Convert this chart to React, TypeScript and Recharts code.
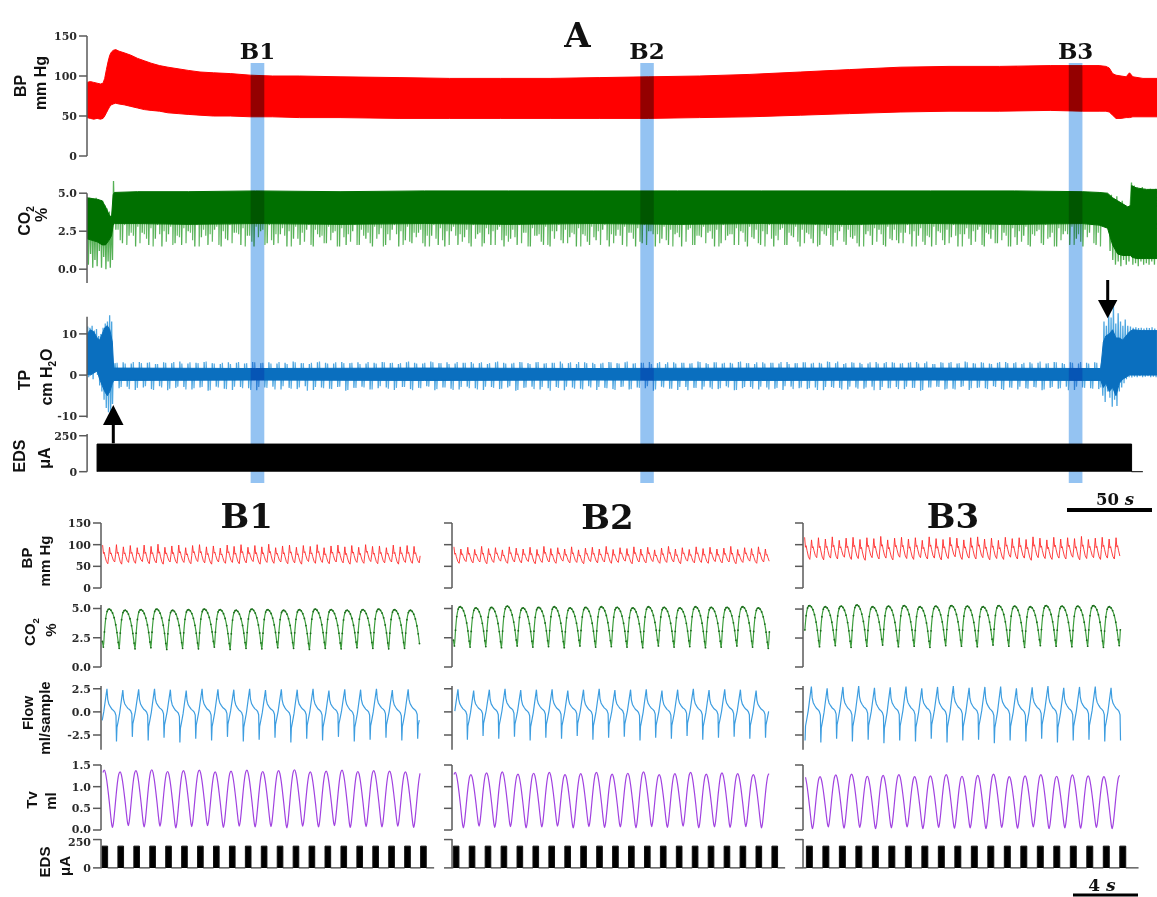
import React from 'react';
import { ComposedChart, Area, Line, XAxis, YAxis, ReferenceArea, ReferenceLine } from 'recharts';

/* ======================= DATA : panel A (time in s) ======================= */
const A_TIME_RANGE: [number, number] = [0, 634.3];

// BP envelope of the dense trace: [t, low, high] (mm Hg)
const BP_A_ENVELOPE: [number, number, number][] = [
  [0, 48, 92], [2, 47, 93], [4, 46, 92], [6, 47, 91], [8, 46, 90], [9.5, 47, 91], [10.5, 50, 97],
  [11.5, 54, 108], [12.5, 58, 118], [13.5, 62, 126], [14.5, 64, 130], [15.5, 65, 132], [17, 66, 133],
  [19, 65, 131], [22, 64, 129], [26, 62, 126], [30, 60, 122], [34, 58, 119], [38, 57, 116], [43, 56, 113],
  [48, 54, 111], [54, 53, 109], [60, 52, 107], [67, 51, 105], [75, 50, 104], [85, 50, 103], [97, 49, 101],
  [110, 49, 100], [126, 48, 100], [150, 48, 99], [185, 47, 98], [215, 47, 97], [245, 47, 97], [275, 47, 97],
  [304, 47, 98], [333, 47, 99], [363, 48, 100], [393, 49, 102], [423, 51, 105], [452, 53, 108], [482, 55, 111],
  [511, 56, 112], [541, 56, 112], [571, 57, 113], [590, 56, 113], [600, 56, 113], [604, 56, 112], [606, 55, 110],
  [608, 51, 103], [610, 47, 101], [613, 47, 100], [616, 48, 99], [618, 48, 104], [620, 49, 99], [626, 49, 97],
  [634.3, 49, 97],
];

// CO2 dense band: [t, low, high] (%)
const CO2_A_BAND: [number, number, number][] = [
  [0, 2.0, 4.7], [3, 1.9, 4.65], [6, 1.8, 4.6], [9, 1.6, 4.5], [11, 1.6, 4.1], [13, 1.9, 3.6], [14.5, 2.2, 3.4],
  [15.5, 2.9, 4.9], [16.2, 3.0, 5.05], [30, 3.0, 5.1], [60, 2.95, 5.1], [100, 3.0, 5.15], [150, 2.95, 5.1],
  [200, 3.0, 5.15], [250, 2.95, 5.15], [300, 3.0, 5.15], [350, 2.95, 5.15], [400, 3.0, 5.15], [450, 2.95, 5.15],
  [500, 3.0, 5.15], [550, 2.95, 5.15], [590, 3.0, 5.1], [600, 2.9, 5.05], [605, 2.7, 5.0], [608, 1.6, 4.7],
  [611, 1.0, 4.5], [614, 0.9, 4.3], [617, 0.9, 4.1], [618.8, 0.9, 4.2], [619.3, 0.8, 5.5], [622, 0.7, 5.35],
  [628, 0.7, 5.25], [634.3, 0.7, 5.25],
];
// CO2 excursions at the start and the end of the record: [t, value]
const CO2_A_HEAD: [number, number][] = [
  [0.3, 4.6], [0.8, 0.3], [1.5, 4.7], [2.1, 1.0], [2.8, 4.6], [3.4, 0.1], [4.1, 4.5], [4.7, 0.6], [5.4, 4.7],
  [6.0, 0.2], [6.7, 4.6], [7.3, 1.2], [8.0, 4.4], [8.6, 0.1], [9.3, 4.5], [9.9, 0.8], [10.6, 4.2], [11.2, 0.0],
  [11.9, 4.0], [12.5, 0.5], [13.2, 3.8], [13.8, 0.1], [14.5, 3.5], [15.1, 0.6], [15.7, 5.8], [16.2, 3.3],
];
const CO2_A_TAIL: [number, number][] = [
  [605.8, 4.0], [606.5, 1.2], [607.3, 4.9], [608.1, 0.6], [608.9, 4.6], [609.7, 0.3], [610.5, 4.8], [611.3, 0.5],
  [612.1, 4.4], [612.9, 0.2], [613.7, 4.5], [614.5, 0.6], [615.3, 4.2], [616.1, 0.3], [616.9, 4.1], [617.7, 0.5],
  [618.5, 4.3], [619.2, 5.7], [620, 0.3], [620.8, 5.5], [621.6, 0.4], [622.4, 5.4], [623.2, 0.2], [624, 5.3],
  [624.8, 0.5], [625.6, 5.4], [626.4, 0.3], [627.2, 5.3], [628, 0.4], [628.8, 5.2], [629.6, 0.3], [630.4, 5.3],
  [631.2, 0.5], [632, 5.2], [632.8, 0.3], [633.6, 5.3],
];
// expiratory minima of the CO2 trace during stimulation (three interleaved series of spikes)
const CO2_A_SPIKE_START = 17;
const CO2_A_SPIKE_STEP = 3.9;
const CO2_A_SPIKE_BASE = 4.0;
const CO2_A_SPIKE_LOWS = [
  2.6, 1.7, 2.2, 1.5, 2.4, 1.6, 2.0, 1.5, 2.3, 1.7, 1.6, 2.5, 1.5, 2.1, 1.6, 2.6, 1.5, 1.9, 2.4, 1.6,
  2.2, 1.5, 2.5, 1.7, 1.6, 2.3, 1.5, 2.0, 1.6, 2.6, 1.5, 2.1, 1.7, 2.4, 1.5, 1.6, 2.5, 1.6, 2.0, 1.5,
  2.3, 1.6, 2.6, 1.5, 1.9, 1.7, 2.4, 1.5, 2.2, 1.6, 1.5, 2.5, 1.6, 2.1, 1.5, 2.3, 1.7, 1.6, 2.6, 1.5,
  2.0, 1.6, 2.4, 1.5, 2.2, 1.6, 1.5, 2.5, 1.7, 2.1, 1.5, 2.3, 1.6, 1.9, 2.6, 1.5, 2.2, 1.6, 2.4, 1.5,
  1.7, 2.5, 1.5, 2.0, 1.6, 2.3, 1.5, 2.6, 1.6, 2.1, 2.4, 1.5, 1.7, 2.2, 1.6, 2.5, 1.5, 2.0, 1.6, 2.3,
  1.5, 2.6, 1.6, 2.1, 1.5, 2.4, 1.7, 1.6, 2.2, 1.5, 2.5, 1.6, 2.0, 1.5, 2.3, 1.6, 2.6, 1.5, 1.9, 1.7,
  2.4, 1.5, 2.2, 1.6, 1.5, 2.5, 1.6, 2.1, 1.5, 2.3, 1.6, 2.6, 1.5, 2.0, 1.7, 2.4, 1.5, 1.6, 2.2, 1.5,
  2.5, 1.6, 2.1, 1.5, 2.3, 1.6, 2.0, 1.5, 2.4, 1.6,
];
const CO2_A_SPIKE_LOWS_2 = [
  2.6, 2.9, 2.4, 2.8, 2.3, 2.7, 2.9, 2.5, 2.8, 2.2, 2.7, 2.4, 2.9, 2.6, 2.3, 2.8, 2.5, 2.9, 2.4, 2.7,
  2.2, 2.8, 2.6, 2.9, 2.3, 2.7, 2.5, 2.8, 2.4, 2.9, 2.6, 2.2, 2.8, 2.5, 2.7, 2.3, 2.9, 2.6, 2.4, 2.8,
  2.7, 2.3, 2.9, 2.5, 2.8, 2.4, 2.6, 2.2, 2.9, 2.7, 2.5, 2.8, 2.3, 2.6, 2.9, 2.4, 2.7, 2.5, 2.8, 2.2,
  2.6, 2.9, 2.4, 2.7, 2.3, 2.8, 2.5, 2.9, 2.6, 2.4, 2.7, 2.2, 2.8, 2.5, 2.9, 2.3, 2.6, 2.8, 2.4, 2.7,
  2.9, 2.5, 2.3, 2.8, 2.6, 2.4, 2.9, 2.7, 2.2, 2.8, 2.5, 2.6, 2.9, 2.3, 2.7, 2.4, 2.8, 2.6, 2.5, 2.9,
  2.2, 2.7, 2.4, 2.8, 2.6, 2.3, 2.9, 2.5, 2.7, 2.4, 2.8, 2.6, 2.2, 2.9, 2.5, 2.7, 2.3, 2.8, 2.6, 2.4,
  2.9, 2.5, 2.7, 2.2, 2.8, 2.4, 2.6, 2.9, 2.3, 2.7, 2.5, 2.8, 2.4, 2.6, 2.9, 2.2, 2.7, 2.5, 2.8, 2.3,
  2.6, 2.9, 2.4, 2.7, 2.5, 2.8, 2.3, 2.6, 2.9, 2.4,
];
const CO2_A_SPIKE_LOWS_3 = [
  1.9, 1.6, 2.2, 1.7, 2.0, 1.5, 2.3, 1.8, 1.6, 2.1, 1.7, 1.9, 1.5, 2.2, 1.8, 1.6, 2.0, 1.7, 2.3, 1.5,
  1.8, 2.1, 1.6, 1.9, 1.7, 2.2, 1.5, 2.0, 1.8, 1.6, 2.3, 1.7, 1.9, 1.5, 2.1, 1.8, 1.6, 2.2, 1.7, 2.0,
  1.5, 1.9, 2.3, 1.6, 1.8, 2.1, 1.7, 1.5, 2.0, 1.9, 1.6, 2.2, 1.8, 1.7, 2.0, 1.5, 2.3, 1.6, 1.9, 1.8,
  2.1, 1.7, 1.5, 2.2, 1.8, 1.6, 2.0, 1.9, 1.7, 2.3, 1.5, 1.8, 2.1, 1.6, 1.9, 1.7, 2.2, 1.5, 2.0, 1.8,
  1.6, 2.3, 1.7, 1.9, 1.5, 2.1, 1.8, 1.6, 2.2, 1.7, 2.0, 1.5, 1.9, 2.3, 1.6, 1.8, 2.1, 1.7, 1.5, 2.0,
  1.9, 1.6, 2.2, 1.8, 1.7, 2.0, 1.5, 2.3, 1.6, 1.9, 1.8, 2.1, 1.7, 1.5, 2.2, 1.8, 1.6, 2.0, 1.9, 1.7,
  2.3, 1.5, 1.8, 2.1, 1.6, 1.9, 1.7, 2.2, 1.5, 2.0, 1.8, 1.6, 2.3, 1.7, 1.9, 1.5, 2.1, 1.8, 1.6, 2.2,
  1.7, 2.0, 1.5, 1.9, 2.3, 1.6, 1.8, 2.1, 1.7, 1.5,
];

// tracheal pressure dense band: [t, low, high] (cm H2O)
const TP_A_BAND: [number, number, number][] = [
  [0, 0.2, 10], [2, 0, 11], [4, 0.5, 10.5], [6, 1, 9], [7.5, -1, 8.5], [9, -2.5, 10], [10.5, -4, 11.5],
  [12, -5, 12], [13.5, -4, 11], [15, -2, 8], [15.8, -1.3, 1.7], [100, -1.2, 1.6], [200, -1.3, 1.7],
  [300, -1.2, 1.6], [400, -1.3, 1.7], [500, -1.2, 1.7], [601, -1.3, 1.6], [602.5, -3, 8], [604, -2, 9.5],
  [606, -4, 10], [608, -3, 11], [610, -5, 9], [612, -2, 9], [614, -1, 8.5], [616, -0.5, 9.5], [618, 0, 10.5],
  [620, 0, 11], [625, 0, 10.8], [634.3, 0, 10.8],
];
const TP_A_HEAD: [number, number][] = [
  [0.4, 11.8], [1.0, -0.5], [1.7, 11.5], [2.3, 0.5], [3.0, 12], [3.6, -1], [4.3, 10.8], [4.9, 1], [5.6, 11.2],
  [6.2, 0], [6.9, 9.5], [7.5, -2.5], [8.2, 10], [8.8, -4], [9.5, 11.5], [10.1, -6], [10.8, 12.5], [11.4, -8],
  [12.1, 13], [12.7, -9], [13.4, 14.5], [14, -10.3], [14.6, 13], [15.1, -7], [15.6, 3], [16.2, 0],
];
const TP_A_TAIL: [number, number][] = [
  [601.5, 3], [602.2, -5], [602.9, 13], [603.6, -6.5], [604.3, 12], [605, -4], [605.7, 15.5], [606.4, -5.5],
  [607.1, 14], [607.8, -7.7], [608.5, 17], [609.2, -6], [609.9, 12.5], [610.6, -7.5], [611.3, 15], [612, -4],
  [612.7, 13], [613.4, -3], [614.1, 12], [614.8, -2], [615.5, 13.5], [616.2, -1], [617, 12], [617.8, -0.5],
  [618.6, 11.8], [619.4, -0.6], [620.2, 11.5], [621, -0.4], [621.8, 11.6], [622.6, -0.5], [623.4, 11.4],
  [624.2, -0.3], [625, 11.5], [625.8, -0.5], [626.6, 11.3], [627.4, -0.4], [628.2, 11.5], [629, -0.3],
  [629.8, 11.4], [630.6, -0.5], [631.4, 11.6], [632.2, -0.4], [633, 11.3], [633.8, -0.5],
];
const TP_A_SPIKE_START = 16.5;
const TP_A_SPIKE_STEP = 4.8;
const TP_A_SPIKE_UP = [
  2.9, 3.1, 2.8, 3.2, 3.0, 2.7, 3.1, 2.9, 3.3, 2.8, 3.0, 3.2, 2.9, 2.7, 3.1, 3.0, 2.8, 3.2, 2.9, 3.1,
  2.8, 3.0, 3.3, 2.9, 2.7, 3.1, 3.0, 2.8, 3.2, 2.9, 3.1, 2.8, 3.0, 3.2, 2.9, 2.7, 3.1, 3.0, 2.8, 3.3,
  2.9, 3.1, 2.8, 3.0, 3.2, 2.9, 2.7, 3.1, 3.0, 2.8, 3.2, 2.9, 3.1, 2.8, 3.0, 3.3, 2.9, 2.7, 3.1, 3.0,
  2.8, 3.2, 2.9, 3.1, 2.8, 3.0, 3.2, 2.9, 2.7, 3.1, 3.0, 2.8, 3.3, 2.9, 3.1, 2.8, 3.0, 3.2, 2.9, 2.7,
  3.1, 3.0, 2.8, 3.2, 2.9, 3.1, 2.8, 3.0, 3.3, 2.9, 2.7, 3.1, 3.0, 2.8, 3.2, 2.9, 3.1, 2.8, 3.0, 3.2,
  2.9, 2.7, 3.1, 3.0, 2.8, 3.3, 2.9, 3.1, 2.8, 3.0, 3.2, 2.9, 2.7, 3.1, 3.0, 2.8, 3.2, 2.9, 3.1, 2.8,
  3.0, 3.1,
];
const TP_A_SPIKE_DOWN = [
  -3.2, -2.8, -3.6, -3.0, -3.4, -2.7, -3.7, -3.1, -2.9, -3.5, -3.0, -3.8, -2.8, -3.3, -3.6, -2.9, -3.2, -3.7, -3.0, -2.8,
  -3.5, -3.1, -3.4, -2.7, -3.6, -3.0, -3.3, -2.9, -3.8, -3.1, -2.8, -3.5, -3.2, -3.0, -3.6, -2.9, -3.4, -3.1, -2.7, -3.7,
  -3.0, -3.3, -3.5, -2.8, -3.2, -3.6, -2.9, -3.4, -3.0, -3.8, -3.1, -2.8, -3.5, -3.2, -2.9, -3.7, -3.0, -3.3, -2.7, -3.6,
  -3.1, -3.4, -2.9, -3.5, -3.0, -3.2, -3.8, -2.8, -3.3, -3.6, -2.9, -3.1, -3.5, -3.0, -3.4, -2.7, -3.7, -3.2, -2.9, -3.5,
  -3.0, -3.3, -3.6, -2.8, -3.2, -3.4, -3.0, -3.7, -2.9, -3.1, -3.5, -3.0, -3.3, -2.8, -3.6, -3.2, -2.9, -3.4, -3.1, -3.8,
  -3.0, -2.8, -3.5, -3.3, -2.9, -3.6, -3.1, -3.2, -2.7, -3.4, -3.0, -3.5, -3.2, -2.9, -3.7, -3.1, -3.3, -2.8, -3.6, -3.0,
  -3.2, -3.4,
];
const TP_A_SPIKE_UP_2 = [
  3.0, 2.8, 3.2, 2.9, 3.1, 2.7, 3.0, 3.2, 2.8, 3.1, 2.9, 3.3, 2.8, 3.0, 2.7, 3.2, 2.9, 3.1, 3.0, 2.8,
  3.2, 2.7, 3.1, 2.9, 3.0, 3.3, 2.8, 3.1, 2.9, 3.0, 2.7, 3.2, 2.8, 3.1, 3.0, 2.9, 3.3, 2.8, 3.0, 3.1,
  2.9, 2.7, 3.2, 3.0, 2.8, 3.1, 2.9, 3.3, 2.8, 3.0, 3.1, 2.7, 3.2, 2.9, 3.0, 2.8, 3.1, 3.2, 2.9, 2.7,
  3.0, 3.1, 2.8, 3.3, 2.9, 3.0, 2.7, 3.2, 3.1, 2.8, 3.0, 2.9, 3.2, 2.7, 3.1, 3.0, 2.8, 3.3, 2.9, 3.1,
  2.8, 3.0, 3.2, 2.7, 2.9, 3.1, 3.0, 2.8, 3.2, 3.3, 2.9, 3.0, 2.7, 3.1, 2.8, 3.2, 3.0, 2.9, 3.1, 2.8,
  3.3, 2.7, 3.0, 3.2, 2.9, 3.1, 2.8, 3.0, 2.7, 3.2, 2.9, 3.1, 3.0, 2.8, 3.3, 2.9, 3.1, 2.7, 3.0, 3.2,
  2.8, 3.0,
];
const TP_A_SPIKE_DOWN_2 = [
  -2.9, -3.4, -3.1, -2.7, -3.6, -3.0, -3.3, -2.8, -3.5, -3.2, -2.9, -3.7, -3.0, -3.4, -2.8, -3.2, -3.6, -2.9, -3.1, -3.5,
  -2.7, -3.3, -3.0, -3.8, -2.9, -3.2, -3.4, -2.8, -3.6, -3.1, -3.0, -3.5, -2.7, -3.3, -3.1, -2.9, -3.7, -3.2, -2.8, -3.4,
  -3.0, -3.6, -2.9, -3.2, -3.5, -2.8, -3.1, -3.3, -2.7, -3.6, -3.0, -3.4, -2.9, -3.8, -3.1, -2.8, -3.3, -3.5, -3.0, -2.9,
  -3.2, -3.6, -2.8, -3.4, -3.1, -2.7, -3.5, -3.0, -3.3, -2.9, -3.7, -3.1, -2.8, -3.4, -3.2, -3.0, -3.6, -2.9, -3.3, -2.8,
  -3.5, -3.1, -2.7, -3.4, -3.0, -3.2, -3.6, -2.9, -3.1, -3.5, -2.8, -3.3, -3.0, -3.7, -2.9, -3.2, -3.4, -2.8, -3.1, -3.6,
  -3.0, -2.9, -3.3, -3.5, -2.7, -3.2, -3.0, -3.4, -2.9, -3.6, -3.1, -2.8, -3.3, -3.0, -3.5, -2.9, -3.2, -3.7, -2.8, -3.1,
  -3.3, -3.0,
];
// electrical diaphragm stimulation in A: on, off, amplitude (uA), end of record
const EDS_A_TRAIN = { on: 5.9, off: 619.3, level: 192, end: 626 };
// highlighted windows (s)
const A_WINDOWS = [
  { name: 'B1', from: 97, to: 105.1 },
  { name: 'B2', from: 328, to: 336 },
  { name: 'B3', from: 582, to: 590.1 },
];

/* ======================= DATA : panels B1-B3 (time in s) ======================= */
const B_TIME_RANGE: [number, number] = [0, 21];
const B_WINDOW_SPAN = [[0.06, 19.84], [0.08, 19.76], [0.1, 19.74]];
// [first peak time, cycle period] per window
const BP_B_TIMING = [[0.1, 0.43], [0.12, 0.43], [0.1, 0.43]];
const CO2_B_TIMING = [[0.52, 0.985], [0.52, 0.975], [0.42, 0.98]];
const FLOW_B_TIMING = [[0.37, 0.985], [0.37, 0.975], [0.52, 0.98]];
const TV_B_TIMING = [[0.2, 0.985], [0.2, 0.975], [0.08, 0.98]];

const BP_B_PEAKS = [
  [97, 99, 94, 100, 95, 98, 93, 99, 96, 101, 94, 97, 99, 93, 98, 100, 95, 97, 92, 99, 96, 100, 94, 98, 95, 101, 93, 97, 99, 94, 98, 96, 100, 93, 97, 99, 95, 98, 94, 100, 96, 97, 93, 99, 95, 98, 96, 94],
  [92, 95, 90, 94, 89, 96, 91, 93, 88, 95, 92, 90, 94, 89, 96, 91, 93, 90, 95, 88, 92, 94, 90, 96, 89, 93, 91, 95, 90, 94, 88, 92, 96, 90, 93, 89, 95, 91, 94, 90, 92, 96, 89, 93, 91, 95, 90, 92],
  [114, 117, 111, 116, 113, 118, 110, 115, 117, 112, 116, 114, 119, 111, 115, 117, 113, 116, 110, 118, 114, 112, 117, 115, 111, 116, 118, 113, 115, 110, 117, 114, 116, 112, 118, 115, 111, 117, 113, 116, 114, 119, 112, 115, 117, 113, 116, 114],
];
const BP_B_TROUGHS = [
  [58, 56, 60, 55, 59, 57, 61, 56, 58, 55, 60, 57, 59, 56, 61, 58, 55, 60, 57, 59, 56, 58, 61, 55, 59, 57, 60, 56, 58, 55, 61, 57, 59, 56, 60, 58, 55, 59, 57, 61, 56, 58, 60, 55, 59, 57, 58, 56],
  [59, 57, 61, 58, 60, 56, 59, 62, 57, 60, 58, 61, 56, 59, 60, 57, 62, 58, 59, 56, 61, 58, 60, 57, 59, 62, 56, 60, 58, 61, 57, 59, 60, 56, 62, 58, 59, 57, 61, 58, 60, 56, 59, 62, 57, 60, 58, 59],
  [68, 66, 70, 65, 69, 67, 71, 66, 68, 64, 70, 67, 69, 65, 71, 68, 66, 70, 67, 69, 65, 68, 72, 66, 69, 67, 70, 65, 68, 66, 71, 67, 69, 64, 70, 68, 66, 69, 67, 71, 65, 68, 70, 66, 69, 67, 68, 66],
];
const CO2_B_PEAKS = [
  [4.9, 4.95, 4.85, 4.9, 4.95, 4.85, 4.9, 4.95, 4.9, 4.85, 4.95, 4.9, 4.85, 4.9, 4.95, 4.9, 4.85, 4.9, 4.95, 4.9, 4.85, 4.9],
  [5.1, 5.15, 5.05, 5.1, 5.2, 5.05, 5.1, 5.15, 5.05, 5.1, 5.15, 5.1, 5.05, 5.15, 5.1, 5.05, 5.15, 5.1, 5.1, 5.15, 5.05, 5.1],
  [5.25, 5.3, 5.2, 5.25, 5.35, 5.2, 5.25, 5.3, 5.2, 5.25, 5.3, 5.25, 5.2, 5.3, 5.25, 5.2, 5.3, 5.25, 5.25, 5.3, 5.2, 5.25],
];
const CO2_B_TROUGHS = [
  [1.7, 1.6, 1.55, 1.65, 1.5, 1.6, 1.55, 1.7, 1.5, 1.6, 1.55, 1.65, 1.6, 1.5, 1.6, 1.55, 1.65, 1.6, 1.55, 1.6, 1.5, 1.6],
  [1.8, 1.7, 1.75, 1.65, 1.8, 1.7, 1.75, 1.65, 1.8, 1.7, 1.75, 1.7, 1.65, 1.8, 1.7, 1.75, 1.65, 1.7, 1.8, 1.7, 1.6, 1.7],
  [1.8, 1.75, 1.85, 1.7, 1.8, 1.9, 1.75, 1.8, 1.7, 1.85, 1.8, 1.75, 1.9, 1.8, 1.7, 1.85, 1.8, 1.75, 1.8, 1.7, 1.85, 1.8],
];
const FLOW_B_PEAKS = [
  [2.4, 2.5, 2.35, 2.45, 2.5, 2.4, 2.3, 2.5, 2.45, 2.4, 2.5, 2.35, 2.45, 2.4, 2.5, 2.3, 2.45, 2.4, 2.5, 2.35, 2.45, 2.4],
  [2.35, 2.45, 2.3, 2.4, 2.5, 2.35, 2.4, 2.45, 2.3, 2.4, 2.5, 2.35, 2.4, 2.45, 2.3, 2.4, 2.5, 2.35, 2.45, 2.4, 2.3, 2.4],
  [2.6, 2.75, 2.55, 2.7, 2.8, 2.6, 2.65, 2.75, 2.55, 2.7, 2.8, 2.6, 2.7, 2.75, 2.55, 2.65, 2.8, 2.6, 2.7, 2.75, 2.6, 2.65],
];
const FLOW_B_MINIMA = [
  [-3.0, -3.2, -2.7, -3.1, -2.8, -3.3, -2.9, -3.1, -2.7, -3.2, -3.0, -2.8, -3.3, -2.9, -3.1, -2.7, -3.2, -3.0, -2.8, -3.1, -2.9, -3.0],
  [-2.8, -3.0, -2.6, -2.9, -2.7, -3.1, -2.8, -2.9, -2.6, -3.0, -2.8, -2.7, -3.1, -2.8, -2.9, -2.6, -3.0, -2.8, -2.7, -2.9, -2.8, -2.9],
  [-3.1, -3.3, -2.9, -3.2, -3.0, -3.4, -3.1, -3.2, -2.9, -3.3, -3.1, -3.0, -3.4, -3.1, -3.2, -2.9, -3.3, -3.1, -3.0, -3.2, -3.1, -3.2],
];
const TV_B_PEAKS = [
  [1.36, 1.38, 1.34, 1.37, 1.39, 1.35, 1.37, 1.38, 1.34, 1.36, 1.38, 1.35, 1.37, 1.39, 1.34, 1.36, 1.38, 1.35, 1.37, 1.36, 1.34, 1.36],
  [1.3, 1.33, 1.28, 1.32, 1.34, 1.29, 1.31, 1.33, 1.28, 1.3, 1.33, 1.29, 1.31, 1.34, 1.28, 1.3, 1.33, 1.29, 1.32, 1.3, 1.28, 1.3],
  [1.25, 1.28, 1.23, 1.27, 1.29, 1.24, 1.26, 1.28, 1.23, 1.25, 1.28, 1.24, 1.26, 1.29, 1.23, 1.25, 1.28, 1.24, 1.27, 1.25, 1.23, 1.26],
];
const TV_B_TROUGHS = [
  [0.08, 0.06, 0.1, 0.07, 0.09, 0.05, 0.08, 0.1, 0.06, 0.09, 0.07, 0.08, 0.05, 0.09, 0.07, 0.1, 0.06, 0.08, 0.07, 0.09, 0.06, 0.08],
  [0.07, 0.05, 0.09, 0.06, 0.08, 0.05, 0.07, 0.09, 0.05, 0.08, 0.06, 0.07, 0.05, 0.08, 0.06, 0.09, 0.05, 0.07, 0.06, 0.08, 0.05, 0.07],
  [0.05, 0.03, 0.07, 0.04, 0.06, 0.03, 0.05, 0.07, 0.03, 0.06, 0.04, 0.05, 0.03, 0.06, 0.04, 0.07, 0.03, 0.05, 0.04, 0.06, 0.03, 0.05],
];
// stimulation pulse trains: first onset, period, count, pulse width (s), amplitude (uA), end of record
const EDS_B_TRAINS = [
  { start: 0.06, period: 0.99, count: 21, width: 0.35, level: 192, end: 20.7 },
  { start: 0.08, period: 0.99, count: 21, width: 0.35, level: 192, end: 20.7 },
  { start: 0.21, period: 1.025, count: 20, width: 0.37, level: 192, end: 20.85 },
];

// one-cycle wave shapes: [phase from peak, fraction between minimum (0) and peak (1)]
const BP_SHAPE: [number, number][] = [[0, 1], [0.12, 0.55], [0.22, 0.62], [0.35, 0.4], [0.55, 0.12], [0.75, 0], [0.88, 0.45]];
const CO2_SHAPE: [number, number][] = [[0, 1], [0.1, 0.97], [0.2, 0.9], [0.3, 0.78], [0.4, 0.6], [0.48, 0.4], [0.56, 0.15], [0.62, 0], [0.69, 0.4], [0.77, 0.75], [0.86, 0.94], [0.93, 0.99]];
const FLOW_SHAPE: [number, number][] = [[0, 1], [0.05, 0.8], [0.12, 0.71], [0.22, 0.655], [0.32, 0.61], [0.42, 0.585], [0.5, 0.555], [0.57, 0.49], [0.6, 0], [0.63, 0.27], [0.7, 0.38], [0.8, 0.55], [0.9, 0.78]];
const TV_SHAPE: [number, number][] = [[0, 1], [0.08, 0.95], [0.16, 0.82], [0.25, 0.62], [0.33, 0.42], [0.41, 0.2], [0.48, 0.04], [0.52, 0], [0.58, 0.08], [0.66, 0.3], [0.75, 0.58], [0.84, 0.82], [0.92, 0.96]];
const SHAPE_MIN_PHASE = { bp: 0.75, co2: 0.62, flow: 0.6, tv: 0.52 };

/* ======================= table builders ======================= */
type Pt = { t: number; v: number };
const rangeRows = (rows: [number, number, number][]) => rows.map(([t, lo, hi]) => ({ t, r: [lo, hi] }));
const pairRows = (rows: [number, number][]): Pt[] => rows.map(([t, v]) => ({ t, v }));

function downSpikes(start: number, step: number, base: number, lows: number[]): Pt[] {
  const out: Pt[] = [];
  lows.forEach((lo, j) => {
    const t = start + j * step;
    out.push({ t, v: base }, { t: t + 0.1, v: lo }, { t: t + 0.5, v: base });
  });
  return out;
}
function upDownSpikes(start: number, step: number, ups: number[], downs: number[]): Pt[] {
  const out: Pt[] = [];
  ups.forEach((u, j) => {
    const t = start + j * step;
    const h = t + step / 2;
    out.push({ t, v: 0 }, { t: t + 0.1, v: u }, { t: t + 0.5, v: 0 }, { t: h, v: 0 }, { t: h + 0.1, v: downs[j] }, { t: h + 0.5, v: 0 });
  });
  return out;
}
function cycles(t0: number, period: number, peaks: number[], mins: number[], shape: [number, number][], minPhase: number, tMin: number, tMax: number): Pt[] {
  const out: Pt[] = [];
  for (let k = -1; k < peaks.length - 1; k++) {
    const P = peaks[k + 1];
    const Pn = peaks[k + 2] ?? P;
    const M = mins[k + 1];
    for (const [ph, f] of shape) {
      const t = t0 + (k + ph) * period;
      if (t < tMin || t > tMax) continue;
      const ref = ph <= minPhase ? P : Pn;
      out.push({ t: Math.round(t * 1000) / 1000, v: M + f * (ref - M) });
    }
  }
  return out;
}
function pulseTrain(p: { start: number; period: number; count: number; width: number; level: number; end: number }): Pt[] {
  const out: Pt[] = [{ t: 0, v: 0 }];
  for (let i = 0; i < p.count; i++) {
    const s = p.start + i * p.period;
    out.push({ t: s, v: 0 }, { t: s, v: p.level }, { t: s + p.width, v: p.level }, { t: s + p.width, v: 0 });
  }
  out.push({ t: p.end, v: 0 });
  return out;
}

const bpA = rangeRows(BP_A_ENVELOPE);
const co2ABand = rangeRows(CO2_A_BAND);
const co2ASpikes = [...pairRows(CO2_A_HEAD), ...downSpikes(CO2_A_SPIKE_START, CO2_A_SPIKE_STEP, CO2_A_SPIKE_BASE, CO2_A_SPIKE_LOWS), ...pairRows(CO2_A_TAIL)];
const co2ASpikes2 = downSpikes(CO2_A_SPIKE_START + CO2_A_SPIKE_STEP / 3, CO2_A_SPIKE_STEP, CO2_A_SPIKE_BASE, CO2_A_SPIKE_LOWS_2);
const co2ASpikes3 = downSpikes(CO2_A_SPIKE_START + (2 * CO2_A_SPIKE_STEP) / 3, CO2_A_SPIKE_STEP, CO2_A_SPIKE_BASE, CO2_A_SPIKE_LOWS_3);
const tpABand = rangeRows(TP_A_BAND);
const tpASpikes = [...pairRows(TP_A_HEAD), ...upDownSpikes(TP_A_SPIKE_START, TP_A_SPIKE_STEP, TP_A_SPIKE_UP, TP_A_SPIKE_DOWN), ...pairRows(TP_A_TAIL)];
const tpASpikes2 = upDownSpikes(TP_A_SPIKE_START + TP_A_SPIKE_STEP / 4, TP_A_SPIKE_STEP, TP_A_SPIKE_UP_2, TP_A_SPIKE_DOWN_2);
const edsA: Pt[] = [
  { t: EDS_A_TRAIN.on, v: 0 }, { t: EDS_A_TRAIN.on, v: EDS_A_TRAIN.level }, { t: EDS_A_TRAIN.off, v: EDS_A_TRAIN.level },
  { t: EDS_A_TRAIN.off, v: 0 }, { t: EDS_A_TRAIN.end, v: 0 },
];
const windowTable = A_WINDOWS.flatMap((w) => [{ t: w.from, v: 0 }, { t: w.to, v: 1 }]);

const bWindows = [0, 1, 2].map((i) => {
  const [a, b] = B_WINDOW_SPAN[i];
  return {
    bp: cycles(BP_B_TIMING[i][0], BP_B_TIMING[i][1], BP_B_PEAKS[i], BP_B_TROUGHS[i], BP_SHAPE, SHAPE_MIN_PHASE.bp, a, b),
    co2: cycles(CO2_B_TIMING[i][0], CO2_B_TIMING[i][1], CO2_B_PEAKS[i], CO2_B_TROUGHS[i], CO2_SHAPE, SHAPE_MIN_PHASE.co2, a, b),
    flow: cycles(FLOW_B_TIMING[i][0], FLOW_B_TIMING[i][1], FLOW_B_PEAKS[i], FLOW_B_MINIMA[i], FLOW_SHAPE, SHAPE_MIN_PHASE.flow, a, b),
    tv: cycles(TV_B_TIMING[i][0], TV_B_TIMING[i][1], TV_B_PEAKS[i], TV_B_TROUGHS[i], TV_SHAPE, SHAPE_MIN_PHASE.tv, a, b),
    eds: pulseTrain(EDS_B_TRAINS[i]),
  };
});

/* ======================= layout & style ======================= */
const AXIS = '#5a5a5a';
const SERIF = "'DejaVu Serif', 'Liberation Serif', serif";
const SANS = "'Liberation Sans', Arial, sans-serif";
const BAND_BLUE = '#94c3f2';
const f1 = (v: number) => v.toFixed(1);
const f0 = (v: number) => String(v);

const A_AXIS_W = 87;
const A_PLOT_W = 1070;
const B_AXIS_X = [100.7, 451.7, 803.3];
const B_AXIS_W = 100;
const B_PLOT_W = 338;

function makeTick(fmt: (v: number) => string, show: boolean, nudge?: Record<string, number>) {
  return (props: any) => {
    if (!show) return <g />;
    const { x, y, payload } = props;
    const label = fmt(payload.value);
    const extra = nudge && nudge[label] ? nudge[label] : 0;
    return (
      <text x={x} y={y + extra} dy="0.355em" textAnchor="end" fontFamily={SERIF} fontWeight={700} fontSize={11} fill="#2b2b2b">
        {label}
      </text>
    );
  };
}

type TraceProps = {
  left: number; plotTop: number; plotW: number; plotH: number; axisW: number;
  xDomain: [number, number]; yDomain: [number, number]; ticks?: number[];
  labels?: boolean; fmt?: (v: number) => string; axisSpan?: [number, number];
  bare?: boolean; nudge?: Record<string, number>; children?: React.ReactNode;
};

function Trace(p: TraceProps) {
  const mt = 12;
  const mb = 12;
  const fmt = p.fmt ?? f0;
  return (
    <div style={{ position: 'absolute', left: p.left, top: p.plotTop - mt }}>
      <ComposedChart width={p.axisW + p.plotW} height={mt + p.plotH + mb} margin={{ top: mt, right: 0, bottom: mb, left: 0 }}>
        <XAxis type="number" dataKey="t" domain={p.xDomain} hide />
        {p.bare ? (
          <YAxis type="number" domain={p.yDomain} width={p.axisW} tick={false} tickLine={false} axisLine={false} />
        ) : (
          <YAxis
            type="number"
            domain={p.yDomain}
            ticks={p.ticks}
            interval={0}
            width={p.axisW}
            tickSize={8}
            tickMargin={2}
            stroke={AXIS}
            tickLine={{ stroke: AXIS, strokeWidth: 1.5 }}
            axisLine={p.axisSpan ? false : { stroke: AXIS, strokeWidth: 1.5 }}
            tick={makeTick(fmt, !!p.labels, p.nudge)}
          />
        )}
        {p.axisSpan && (
          <ReferenceLine
            segment={[{ x: p.xDomain[0], y: p.axisSpan[0] }, { x: p.xDomain[0], y: p.axisSpan[1] }]}
            stroke={AXIS}
            strokeWidth={1.5}
            ifOverflow="visible"
          />
        )}
        {p.children}
      </ComposedChart>
    </div>
  );
}

function VLabel({ x, y, size, children }: { x: number; y: number; size: number; children: React.ReactNode }) {
  return (
    <text transform={`translate(${x},${y}) rotate(-90)`} textAnchor="middle" fontFamily={SANS} fontWeight={700} fontSize={size} fill="#111">
      {children}
    </text>
  );
}

export default function App() {
  const aCommon = { left: 0, plotW: A_PLOT_W, axisW: A_AXIS_W, xDomain: A_TIME_RANGE, labels: true };
  const co2Geo = { plotTop: 178.1, plotH: 104.88, yDomain: [-0.9, 6.0] as [number, number] };
  const tpGeo = { plotTop: 302.9, plotH: 114.95, yDomain: [-10.4, 17.5] as [number, number] };
  return (
    <div style={{ position: 'absolute', left: 0, top: 0, width: 1157, height: 897, background: '#fff', overflow: 'hidden' }}>
      {/* ---------------- Panel A ---------------- */}
      <Trace {...aCommon} plotTop={35.7} plotH={120} yDomain={[0, 150]} ticks={[0, 50, 100, 150]} fmt={f0}>
        <Area data={bpA} dataKey="r" type="linear" stroke="#ff0000" strokeWidth={1} fill="#ff0000" fillOpacity={1} isAnimationActive={false} />
      </Trace>
      {/* CO2: light spikes below, dense band above */}
      <Trace {...aCommon} {...co2Geo} bare>
        <Line data={co2ASpikes2} dataKey="v" type="linear" stroke="#6cbf6c" strokeWidth={1.2} dot={false} isAnimationActive={false} />
        <Line data={co2ASpikes3} dataKey="v" type="linear" stroke="#62b862" strokeWidth={1.2} dot={false} isAnimationActive={false} />
        <Line data={co2ASpikes} dataKey="v" type="linear" stroke="#55b055" strokeWidth={1.3} dot={false} isAnimationActive={false} />
      </Trace>
      <Trace {...aCommon} {...co2Geo} ticks={[0, 2.5, 5]} fmt={f1} axisSpan={[-0.9, 5.0]}>
        <Area data={co2ABand} dataKey="r" type="linear" stroke="#007000" strokeWidth={1} fill="#007000" fillOpacity={1} isAnimationActive={false} />
      </Trace>
      {/* TP */}
      <Trace {...aCommon} {...tpGeo} bare>
        <Line data={tpASpikes2} dataKey="v" type="linear" stroke="#5aaee4" strokeWidth={1.2} dot={false} isAnimationActive={false} />
        <Line data={tpASpikes} dataKey="v" type="linear" stroke="#4ea6e0" strokeWidth={1.3} dot={false} isAnimationActive={false} />
      </Trace>
      <Trace {...aCommon} {...tpGeo} ticks={[-10, 0, 10]} fmt={f0} axisSpan={[-10.36, 14.15]}>
        <Area data={tpABand} dataKey="r" type="linear" stroke="#0a6fbf" strokeWidth={1} fill="#0a6fbf" fillOpacity={1} isAnimationActive={false} />
      </Trace>
      <Trace {...aCommon} plotTop={434.0} plotH={37.7} yDomain={[0, 262]} ticks={[0, 250]} fmt={f0}>
        <Area data={edsA} dataKey="v" type="linear" stroke="#000" strokeWidth={1} fill="#000" fillOpacity={1} isAnimationActive={false} />
      </Trace>

      {/* highlighted windows, blended over the traces */}
      <div style={{ position: 'absolute', left: 0, top: 62.7 - 32, mixBlendMode: 'multiply', pointerEvents: 'none' }}>
        <ComposedChart width={1157} height={32 + 420.6} margin={{ top: 32, right: 0, bottom: 0, left: A_AXIS_W }} data={windowTable}>
          <XAxis type="number" dataKey="t" domain={A_TIME_RANGE} hide />
          <YAxis type="number" domain={[0, 1]} hide width={0} />
          <Line dataKey="v" stroke="none" strokeWidth={0} dot={false} isAnimationActive={false} />
          {A_WINDOWS.map((w) => (
            <ReferenceArea
              key={w.name}
              x1={w.from}
              x2={w.to}
              y1={0}
              y2={1}
              fill={BAND_BLUE}
              fillOpacity={1}
              stroke="none"
              ifOverflow="visible"
              label={{ value: w.name, position: 'top', offset: 4, fill: '#111', fontSize: 23, fontFamily: SERIF, fontWeight: 700 }}
            />
          ))}
        </ComposedChart>
      </div>

      {/* ---------------- Panels B1-B3 ---------------- */}
      {bWindows.map((w, i) => {
        const c = { left: B_AXIS_X[i] - B_AXIS_W, plotW: B_PLOT_W, axisW: B_AXIS_W, xDomain: B_TIME_RANGE, labels: i === 0 };
        return (
          <React.Fragment key={i}>
            <Trace {...c} plotTop={523} plotH={65} yDomain={[0, 150]} ticks={[0, 50, 100, 150]} fmt={f0}>
              <Line data={w.bp} dataKey="v" type="linear" stroke="#ff2a2a" strokeWidth={0.9} dot={false} isAnimationActive={false} />
            </Trace>
            <Trace {...c} plotTop={605} plotH={62} yDomain={[0, 5.3]} ticks={[0, 2.5, 5]} fmt={f1}>
              <Line data={w.co2} dataKey="v" type="monotone" stroke="#3f9f3f" strokeWidth={1.2} dot={{ r: 0.9, fill: '#1c6a1c', stroke: 'none' }} isAnimationActive={false} />
            </Trace>
            <Trace {...c} plotTop={686.1} plotH={63.8} yDomain={[-4.1, 2.8]} ticks={[-2.5, 0, 2.5]} fmt={f1}>
              <Line data={w.flow} dataKey="v" type="linear" stroke="#3d9de0" strokeWidth={1.2} dot={false} isAnimationActive={false} />
            </Trace>
            <Trace {...c} plotTop={765} plotH={65} yDomain={[0, 1.5]} ticks={[0, 0.5, 1, 1.5]} fmt={f1} nudge={{ '0.0': -1 }}>
              <Line data={w.tv} dataKey="v" type="monotone" stroke="#a142e0" strokeWidth={1.2} dot={false} isAnimationActive={false} />
            </Trace>
            <Trace {...c} plotTop={839.4} plotH={28.9} yDomain={[0, 255]} ticks={[0, 250]} fmt={f0} nudge={{ '250': 3 }}>
              <Area data={w.eds} dataKey="v" type="linear" stroke="#111" strokeWidth={1} fill="#000" fillOpacity={1} isAnimationActive={false} />
            </Trace>
          </React.Fragment>
        );
      })}

      {/* ---------------- labels and annotations ---------------- */}
      <svg width={1157} height={897} style={{ position: 'absolute', left: 0, top: 0, pointerEvents: 'none' }}>
        <text x={577.5} y={46.7} textAnchor="middle" fontFamily={SERIF} fontWeight={700} fontSize={34} fill="#111">A</text>

        <VLabel x={26} y={86} size={16}>BP</VLabel>
        <VLabel x={46} y={83} size={16}>mm Hg</VLabel>
        <VLabel x={30} y={221} size={16}>CO<tspan fontSize={10} dy={4}>2</tspan></VLabel>
        <VLabel x={47} y={215} size={16}>%</VLabel>
        <VLabel x={30} y={380} size={16}>TP</VLabel>
        <VLabel x={52} y={377} size={16}>cm H<tspan fontSize={10} dy={4}>2</tspan><tspan dy={-4}>O</tspan></VLabel>
        <VLabel x={25} y={456} size={16}>EDS</VLabel>
        <VLabel x={50} y={458} size={16}>μA</VLabel>

        {/* arrows */}
        <rect x={111.8} y={423} width={3} height={20.3} fill="#000" />
        <polygon points="103,425 123.5,425 113.3,405" fill="#000" />
        <rect x={1106.2} y={280} width={3} height={21} fill="#000" />
        <polygon points="1098,300 1117.4,300 1107.7,318.3" fill="#000" />

        {/* 50 s scale */}
        <rect x={1067} y={508} width={85} height={4} fill="#000" />
        <text x={1115} y={505} textAnchor="middle" fontFamily={SERIF} fontWeight={700} fontSize={16.5} fill="#111">50 <tspan fontStyle="italic">s</tspan></text>

        {/* B titles */}
        <text x={246.7} y={528} textAnchor="middle" fontFamily={SERIF} fontWeight={700} fontSize={34} fill="#111">B1</text>
        <text x={607.5} y={529} textAnchor="middle" fontFamily={SERIF} fontWeight={700} fontSize={34} fill="#111">B2</text>
        <text x={953} y={528} textAnchor="middle" fontFamily={SERIF} fontWeight={700} fontSize={34} fill="#111">B3</text>

        <VLabel x={31.5} y={558} size={15}>BP</VLabel>
        <VLabel x={50} y={561} size={15}>mm Hg</VLabel>
        <VLabel x={35} y={632} size={15}>CO<tspan fontSize={9.5} dy={4}>2</tspan></VLabel>
        <VLabel x={56} y={630} size={15}>%</VLabel>
        <VLabel x={33} y={713} size={15}>Flow</VLabel>
        <VLabel x={50} y={718} size={15}>ml/sample</VLabel>
        <VLabel x={36.5} y={800} size={15}>Tv</VLabel>
        <VLabel x={56} y={801} size={15}>ml</VLabel>
        <VLabel x={50} y={862} size={15}>EDS</VLabel>
        <VLabel x={70} y={866} size={15}>μA</VLabel>

        {/* 4 s scale */}
        <rect x={1073} y={893.5} width={65} height={3} fill="#000" />
        <text x={1102} y={891} textAnchor="middle" fontFamily={SERIF} fontWeight={700} fontSize={17} fill="#111">4 <tspan fontStyle="italic">s</tspan></text>
      </svg>
    </div>
  );
}
